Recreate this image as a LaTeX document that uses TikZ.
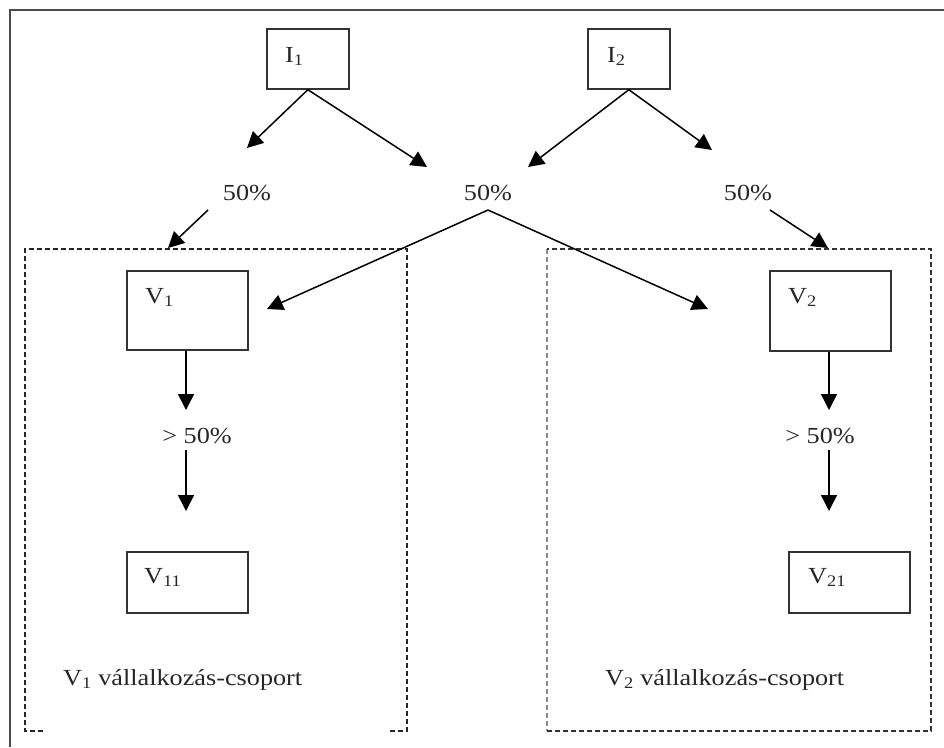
\documentclass[tikz,border=0pt]{standalone}
\usepackage{fontspec}
\setmainfont{Liberation Serif}[FakeStretch=1.14]
\usetikzlibrary{arrows.meta}
\tikzset{
  box/.style={draw=black!80, line width=1.7pt, minimum width=#1, inner sep=0pt, anchor=north west},
  lbl/.style={anchor=base west, inner sep=0pt, font=\fontsize{23}{27}\selectfont, text=black!85},
  pct/.style={anchor=base, inner sep=0pt, font=\fontsize{23}{27}\selectfont, text=black!85},
  arr/.style={line width=1.5pt, -{Triangle[length=16pt,width=16pt]}},
  grp/.style={line width=1.5pt, dash pattern=on 5pt off 3pt}
}
\begin{document}
\begin{tikzpicture}[x=1pt,y=-1pt]
\useasboundingbox (0,0) rectangle (944,747);
% outer frame
\draw[line width=1.8pt, black!70] (944,10) -- (10,10) -- (10,747);

% group boxes
\draw[grp, black!85] (43,731) -- (25,731) -- (25,249) -- (407,249) -- (407,731) -- (388,731);
\draw[grp, black!45] (547,249) -- (547,731);
\draw[grp, black!80] (547,731) -- (931,731) -- (931,249) -- (547,249);

% boxes
\node[box=82pt, minimum height=60pt] (I1) at (266,28) {};
\node[box=82pt, minimum height=60pt] (I2) at (587,28) {};
\node[box=121pt, minimum height=79pt] (V1) at (126,270) {};
\node[box=121pt, minimum height=61pt] (V11) at (126,551) {};
\node[box=121pt, minimum height=80pt] (V2) at (769,270) {};
\node[box=121pt, minimum height=61pt] (V21) at (788,551) {};

% box labels
\node[lbl] (tI1) at (285,62) {I\textsubscript{1}};
\node[lbl] (tI2) at (607,62) {I\textsubscript{2}};
\node[lbl] (tV1) at (145,303) {V\textsubscript{1}};
\node[lbl] (tV11) at (144,583) {V\textsubscript{11}};
\node[lbl] (tV2) at (788,303) {V\textsubscript{2}};
\node[lbl] (tV21) at (808,583) {V\textsubscript{21}};
\node[lbl] (g1) at (63,685) {V\textsubscript{1} vállalkozás-csoport};
\node[lbl] (g2) at (605,685) {V\textsubscript{2} vállalkozás-csoport};

% percentages
\node[pct] (p1) at (247,200) {50\%};
\node[pct] (p2) at (488,200) {50\%};
\node[pct] (p3) at (748,200) {50\%};
\node[pct] (q1) at (197,443) {> 50\%};
\node[pct] (q2) at (820,443) {> 50\%};

% coordinates
\coordinate (m) at (488,210);
\coordinate (a1) at (247,148);
\coordinate (a2) at (427,167);
\coordinate (a3) at (528,167);
\coordinate (a4) at (712,150);
\coordinate (b1s) at (208,210);
\coordinate (b1e) at (168,248);
\coordinate (b3s) at (770,210);
\coordinate (b3e) at (828,248);
\coordinate (c1) at (267,309);
\coordinate (c2) at (708,309);
\coordinate (d1) at (186,410);
\coordinate (d1s) at (186,450);
\coordinate (d1e) at (186,511);
\coordinate (d2) at (829,410);
\coordinate (d2s) at (829,450);
\coordinate (d2e) at (829,511);

% arrows
\draw[arr] (I1.south) -- (a1);
\draw[arr] (I1.south) -- (a2);
\draw[arr] (I2.south) -- (a3);
\draw[arr] (I2.south) -- (a4);
\draw[arr] (b1s) -- (b1e);
\draw[arr] (b3s) -- (b3e);
\draw[arr] (m) -- (c1);
\draw[arr] (m) -- (c2);
\draw[arr] (V1.south -| d1) -- (d1);
\draw[arr] (d1s) -- (d1e);
\draw[arr] (V2.south -| d2) -- (d2);
\draw[arr] (d2s) -- (d2e);
\end{tikzpicture}
\end{document}
